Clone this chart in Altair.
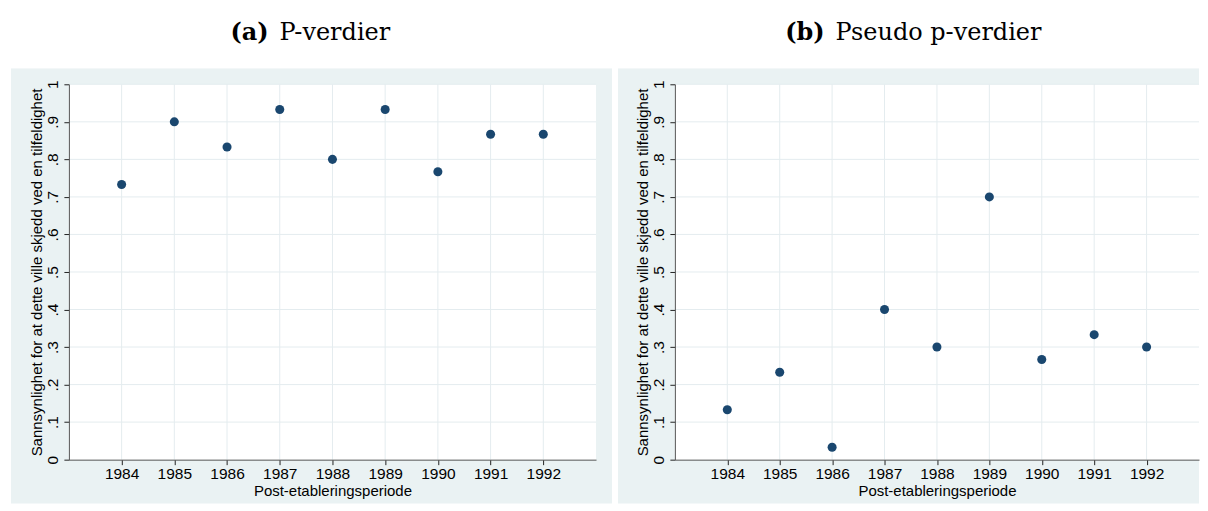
import altair as alt
import pandas as pd

# ---- data ----
years = [1984, 1985, 1986, 1987, 1988, 1989, 1990, 1991, 1992]
p_verdier = [0.733, 0.900, 0.833, 0.933, 0.800, 0.933, 0.767, 0.867, 0.867]
pseudo_p_verdier = [0.133, 0.233, 0.033, 0.400, 0.300, 0.700, 0.267, 0.333, 0.300]
y_ticks = [0.0, 0.1, 0.2, 0.3, 0.4, 0.5, 0.6, 0.7, 0.8, 0.9, 1.0]
y_tick_labels = ["0", ".1", ".2", ".3", ".4", ".5", ".6", ".7", ".8", ".9", "1"]
x_title = "Post-etableringsperiode"
y_title = "Sannsynlighet for at dette ville skjedd ved en tilfeldighet"
panel_tags = ["(a)", "(b)"]
panel_names = ["P-verdier", "Pseudo p-verdier"]

# ---- styling ----
BG = "#eaf2f3"
GRID = "#e4ecef"
POINT = "#1a476f"
SANS = "Liberation Sans"
SERIF = "DejaVu Serif"
H = 376

label_array = "[" + ",".join("'" + s + "'" for s in y_tick_labels) + "]"
y_label_expr = label_array + "[round(datum.value * 10)]"

X_AXIS = alt.Axis(
    values=years, format="d", title=x_title, grid=False,
    labelPadding=2, titlePadding=1, zindex=1, labelFlush=False)
Y_AXIS = alt.Axis(
    values=y_ticks, labelExpr=y_label_expr, title=y_title, grid=False,
    labelAngle=270, labelAlign="center", labelBaseline="alphabetic",
    labelPadding=6, titlePadding=1, zindex=1, labelFlush=False,
    labelOverlap=False)


def panel(values, tag, name, w, bg_left, bg_right, tag_right):
    one = pd.DataFrame({"k": [0]})
    xs = alt.Scale(domain=[1983, 1993], nice=False, zero=False)
    ys = alt.Scale(domain=[0, 1], nice=False, zero=True)

    bg = alt.Chart(one).mark_rect(fill=BG, clip=False).encode(
        x=alt.value(bg_left), x2=alt.value(bg_right),
        y=alt.value(-16), y2=alt.value(H + 44))
    top = alt.Chart(one).mark_rect(fill="white", clip=False).encode(
        x=alt.value(bg_left), x2=alt.value(bg_right),
        y=alt.value(-75), y2=alt.value(-16))
    plot_bg = alt.Chart(one).mark_rect(fill="white").encode(
        x=alt.value(0), x2=alt.value(w), y=alt.value(0), y2=alt.value(H))

    hgrid = alt.Chart(pd.DataFrame({"value": y_ticks[1:]})).mark_rule(
        color=GRID, strokeWidth=1).encode(
        y=alt.Y("value:Q", scale=ys, axis=Y_AXIS),
        x=alt.value(0), x2=alt.value(w))
    vgrid = alt.Chart(pd.DataFrame({"year": years})).mark_rule(
        color=GRID, strokeWidth=1).encode(
        x=alt.X("year:Q", scale=xs, axis=X_AXIS),
        y=alt.value(0), y2=alt.value(H))

    df = pd.DataFrame({"year": years, "value": values})
    pts = alt.Chart(df).mark_circle(size=82, color=POINT, opacity=1).encode(
        x=alt.X("year:Q", scale=xs, axis=X_AXIS),
        y=alt.Y("value:Q", scale=ys, axis=Y_AXIS),
    )

    t1 = alt.Chart(one).mark_text(
        font=SERIF, fontSize=24, fontWeight="bold", align="right",
        baseline="middle", color="black").encode(
        x=alt.value(tag_right), y=alt.value(-51), text=alt.value(tag))
    t2 = alt.Chart(one).mark_text(
        font=SERIF, fontSize=24, fontWeight="normal", align="left",
        baseline="middle", color="black").encode(
        x=alt.value(tag_right + 11), y=alt.value(-51), text=alt.value(name))

    return alt.layer(bg, top, plot_bg, hgrid, vgrid, pts, t1, t2).properties(
        width=w, height=H)


left = panel(p_verdier, panel_tags[0], panel_names[0], 528, -58, 544, 200)
right = panel(pseudo_p_verdier, panel_tags[1], panel_names[1], 525, -57, 525, 150)

chart = alt.hconcat(left, right, spacing=79, bounds="flush").properties(
    padding={"left": 2, "top": 0, "right": 0, "bottom": 0},
    background="white",
).configure_view(stroke="transparent").configure_axis(
    labelFont=SANS, labelFontSize=15.5, labelColor="black",
    titleFont=SANS, titleFontSize=15, titleFontWeight="normal", titleColor="black",
    domainColor="#555555", domainWidth=1, tickColor="#222222", tickSize=5, tickWidth=1,
)

chart.save("out.html", embed_options={"renderer": "svg", "actions": False})
